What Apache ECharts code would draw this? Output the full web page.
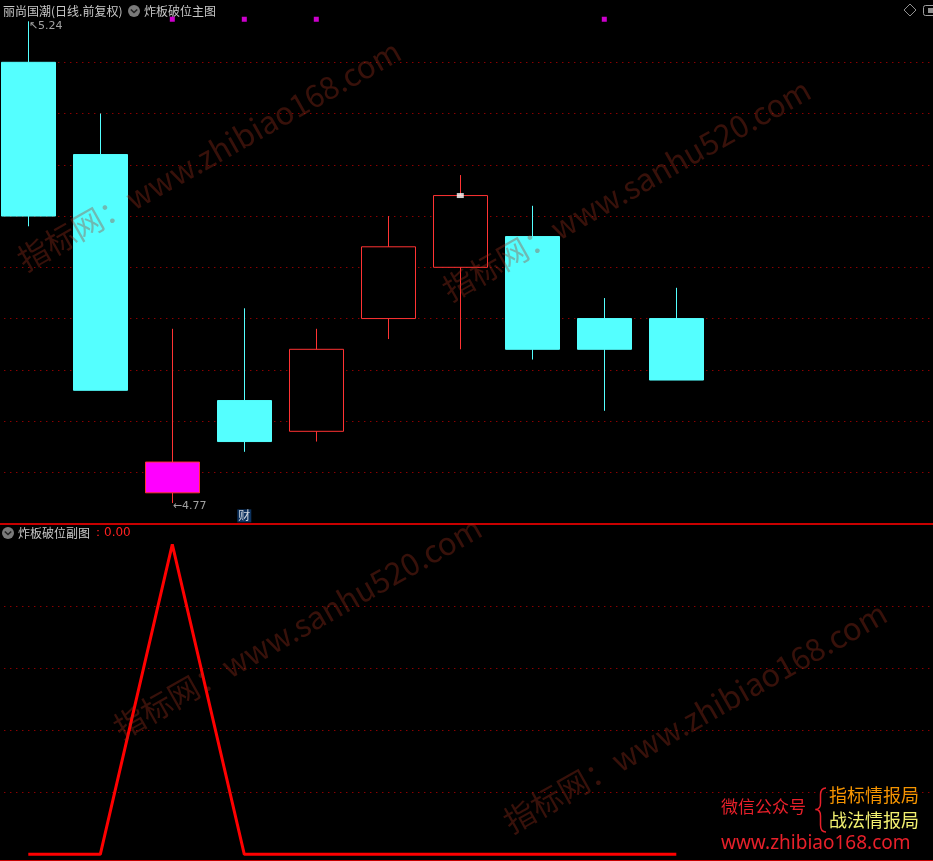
<!DOCTYPE html>
<html>
<head>
<meta charset="utf-8">
<script src="https://cdn.jsdelivr.net/npm/echarts@6/dist/echarts.min.js"></script>
<style>
html,body{margin:0;padding:0;background:#000;overflow:hidden;}
#c{width:933px;height:861px;}
</style>
</head>
<body>
<div id="c"></div>
<script>
// ---------- data ----------
const categories = ['D1','D2','D3','D4','D5','D6','D7','D8','D9','D10','D11','D12','D13','D14'];
const opens  = [5.20, 5.11, 4.78, 4.87, 4.84, 4.95, 5.00, 5.03, 4.95, 4.95];
const closes = [5.05, 4.88, 4.81, 4.83, 4.92, 5.02, 5.07, 4.92, 4.92, 4.89];
const lows   = [5.04, 4.88, 4.77, 4.82, 4.83, 4.93, 4.92, 4.91, 4.86, 4.89];
const highs  = [5.24, 5.15, 4.94, 4.96, 4.94, 5.05, 5.09, 5.06, 4.97, 4.98];
const subValues = [0, 0, 1, 0, 0, 0, 0, 0, 0, 0];
const priceTicks = [4.80, 4.85, 4.90, 4.95, 5.00, 5.05, 5.10, 5.15, 5.20];
const subTicks = [0.2, 0.4, 0.6, 0.8];
const signalIdx = [2, 3, 4, 8];     // magenta dots at top
const breakIdx = [2];               // magenta-filled candle
const whiteMarkIdx = [6];           // white square on close
const finIdx = [3];                 // 财 marker

// ---------- layout constants ----------
const BAND = 72;
const LEFT = 28.3 - BAND / 2;
const GRID_W = BAND * categories.length;
const SIGNAL_LEVEL = 5.242;
const FIN_LEVEL = 4.7575;

const CYAN = '#54ffff';
const RED = '#ff3333';
const FONT_CN = '"Noto Sans CJK SC", "Noto Sans", sans-serif';

const candleData = opens.map((o, i) => {
  const item = { value: [o, closes[i], lows[i], highs[i]] };
  if (breakIdx.includes(i)) {
    item.itemStyle = { color: '#ff00ff', color0: '#ff00ff', borderColor: RED, borderColor0: RED };
  }
  return item;
});

let maxI = 0, minI = 0;
highs.forEach((h, i) => { if (h > highs[maxI]) maxI = i; });
lows.forEach((l, i) => { if (l < lows[minI]) minI = i; });

const gridMark = (ticks) => ({
  silent: true,
  z: 1,
  symbol: ['none', 'none'],
  label: { show: false },
  emphasis: { disabled: true },
  lineStyle: { type: [1, 5], color: '#c80000', width: 1 },
  data: ticks.map(v => ({ yAxis: v }))
});

const wmStyle = { fill: 'rgba(165,50,30,0.34)', font: '31px ' + FONT_CN, textVerticalAlign: 'middle' };
const deg = Math.PI / 180;
const braceStyle = { stroke: '#e8202a', fill: null, lineWidth: 1.5 };

const chart = echarts.init(document.getElementById('c'), null, { renderer: 'canvas' });

chart.setOption({
  backgroundColor: '#000000',
  animation: false,
  grid: [
    { left: LEFT, width: GRID_W, top: 11.05, height: 512.5, outerBoundsMode: 'none', containLabel: false },
    { left: LEFT, width: GRID_W, top: 525.7, height: 334.8, outerBoundsMode: 'none', containLabel: false }
  ],
  xAxis: [
    { type: 'category', gridIndex: 0, data: categories, boundaryGap: true,
      axisLine: { show: true, onZero: false, lineStyle: { color: '#c80000', width: 2 } },
      axisTick: { show: false }, axisLabel: { show: false }, splitLine: { show: false } },
    { type: 'category', gridIndex: 1, data: categories, boundaryGap: true,
      axisLine: { show: true, onZero: false, lineStyle: { color: '#c80000', width: 2 } },
      axisTick: { show: false }, axisLabel: { show: false }, splitLine: { show: false } }
  ],
  yAxis: [
    { type: 'value', gridIndex: 0, min: 4.75, max: 5.25, show: false, splitLine: { show: false } },
    { type: 'value', gridIndex: 1, min: -0.02, max: 1.06, show: false, splitLine: { show: false } }
  ],
  series: [
    { type: 'line', xAxisIndex: 0, yAxisIndex: 0, data: [], z: 1, silent: true, markLine: gridMark(priceTicks) },
    { type: 'line', xAxisIndex: 1, yAxisIndex: 1, data: [], z: 1, silent: true, markLine: gridMark(subTicks) },
    {
      type: 'candlestick', xAxisIndex: 0, yAxisIndex: 0, z: 3,
      barWidth: 55,
      data: candleData,
      itemStyle: { color: '#000000', color0: CYAN, borderColor: RED, borderColor0: CYAN, borderWidth: 1 }
    },
    {
      type: 'scatter', xAxisIndex: 0, yAxisIndex: 0, z: 4, symbol: 'rect', symbolSize: 5,
      itemStyle: { color: '#ff00ff' },
      data: signalIdx.map(i => [i, SIGNAL_LEVEL])
    },
    {
      type: 'scatter', xAxisIndex: 0, yAxisIndex: 0, z: 5, symbol: 'rect', symbolSize: [7, 5],
      itemStyle: { color: '#ffffff' },
      data: whiteMarkIdx.map(i => [i, closes[i]])
    },
    {
      type: 'scatter', xAxisIndex: 0, yAxisIndex: 0, z: 5, symbolSize: 1,
      itemStyle: { color: 'rgba(0,0,0,0)' },
      data: [
        { value: [maxI, highs[maxI]], label: { show: true, position: 'right', distance: 0, offset: [0, 5],
          formatter: '↖' + highs[maxI].toFixed(2) } },
        { value: [minI, lows[minI]], label: { show: true, position: 'right', distance: 0, offset: [0, 3],
          formatter: '←' + lows[minI].toFixed(2) } }
      ],
      label: { color: '#c8c8c8', fontSize: 11, fontFamily: '"DejaVu Sans", sans-serif' }
    },
    {
      type: 'scatter', xAxisIndex: 0, yAxisIndex: 0, z: 5, symbolSize: 1,
      itemStyle: { color: 'rgba(0,0,0,0)' },
      data: finIdx.map(i => [i, FIN_LEVEL]),
      label: { show: true, position: 'inside', formatter: '财', color: '#ffffff', fontSize: 12,
        fontFamily: FONT_CN, backgroundColor: '#0f3d74', padding: [0, 1, 0, 1], lineHeight: 13 }
    },
    {
      type: 'line', xAxisIndex: 1, yAxisIndex: 1, z: 5, symbol: 'none',
      data: subValues,
      lineStyle: { color: '#ff0000', width: 3 }
    }
  ],
  graphic: [
    { type: 'text', x: 3, y: 11, style: { text: '丽尚国潮(日线.前复权)', fill: '#c8c8c8', font: '12px ' + FONT_CN, textVerticalAlign: 'middle' } },
    { type: 'circle', shape: { cx: 134, cy: 11, r: 6 }, style: { fill: '#7a7a7a' } },
    { type: 'polyline', shape: { points: [[130.8, 9.5], [134, 12.5], [137.2, 9.5]] }, style: { stroke: '#222', lineWidth: 1.6, fill: null } },
    { type: 'text', x: 144, y: 11, style: { text: '炸板破位主图', fill: '#c8c8c8', font: '12px ' + FONT_CN, textVerticalAlign: 'middle' } },

    { type: 'circle', shape: { cx: 8, cy: 533, r: 6 }, style: { fill: '#7a7a7a' } },
    { type: 'polyline', shape: { points: [[4.8, 531.5], [8, 534.5], [11.2, 531.5]] }, style: { stroke: '#222', lineWidth: 1.6, fill: null } },
    { type: 'text', x: 18, y: 533, style: { text: '炸板破位副图', fill: '#c8c8c8', font: '12px ' + FONT_CN, textVerticalAlign: 'middle' } },
    { type: 'text', x: 92, y: 533, style: { text: '：' + subValues[subValues.length - 1].toFixed(2), fill: '#ff2020', font: '12px "DejaVu Sans", sans-serif', textVerticalAlign: 'middle' } },

    { type: 'polygon', shape: { points: [[910, 4], [916, 10], [910, 16], [904, 10]] }, style: { stroke: '#909090', fill: null, lineWidth: 1 } },
    { type: 'rect', shape: { x: 923.5, y: 5.5, width: 14, height: 10, r: 2 }, style: { stroke: '#a0a0a0', fill: null, lineWidth: 1 } },
    { type: 'rect', shape: { x: 928, y: 8, width: 5, height: 5 }, style: { fill: '#909090' } },

    { type: 'text', x: 20, y: 262, rotation: 29.5 * deg, z: 50, style: Object.assign({ text: '指标网：www.zhibiao168.com' }, wmStyle) },
    { type: 'text', x: 445, y: 292, rotation: 29.5 * deg, z: 50, style: Object.assign({ text: '指标网：www.sanhu520.com' }, wmStyle) },
    { type: 'text', x: 116, y: 730, rotation: 29.5 * deg, z: 50, style: Object.assign({ text: '指标网：www.sanhu520.com' }, wmStyle) },
    { type: 'text', x: 506, y: 824, rotation: 29.5 * deg, z: 50, style: Object.assign({ text: '指标网：www.zhibiao168.com' }, wmStyle) },

    { type: 'text', x: 721, y: 807, z: 60, style: { text: '微信公众号', fill: '#e8202a', font: '17px ' + FONT_CN, textVerticalAlign: 'middle' } },
    { type: 'bezierCurve', z: 60, shape: { x1: 826, y1: 788, x2: 820.5, y2: 795, cpx1: 820.5, cpy1: 788 }, style: braceStyle },
    { type: 'line', z: 60, shape: { x1: 820.5, y1: 795, x2: 820.5, y2: 803 }, style: braceStyle },
    { type: 'bezierCurve', z: 60, shape: { x1: 820.5, y1: 803, x2: 815.5, y2: 809.5, cpx1: 820.5, cpy1: 809.5 }, style: braceStyle },
    { type: 'bezierCurve', z: 60, shape: { x1: 815.5, y1: 809.5, x2: 820.5, y2: 816, cpx1: 820.5, cpy1: 809.5 }, style: braceStyle },
    { type: 'line', z: 60, shape: { x1: 820.5, y1: 816, x2: 820.5, y2: 825 }, style: braceStyle },
    { type: 'bezierCurve', z: 60, shape: { x1: 820.5, y1: 825, x2: 826, y2: 832, cpx1: 820.5, cpy1: 832 }, style: braceStyle },
    { type: 'text', x: 829, y: 795, z: 60, style: { text: '指标情报局', fill: '#f59400', font: '18px ' + FONT_CN, textVerticalAlign: 'middle' } },
    { type: 'text', x: 829, y: 820, z: 60, style: { text: '战法情报局', fill: '#f2f070', font: '18px ' + FONT_CN, textVerticalAlign: 'middle' } },
    { type: 'text', x: 721, y: 844, z: 60, style: { text: 'www.zhibiao168.com', fill: '#e8202a', font: '19px "Noto Sans", sans-serif', textVerticalAlign: 'middle' } }
  ]
});
</script>
</body>
</html>
